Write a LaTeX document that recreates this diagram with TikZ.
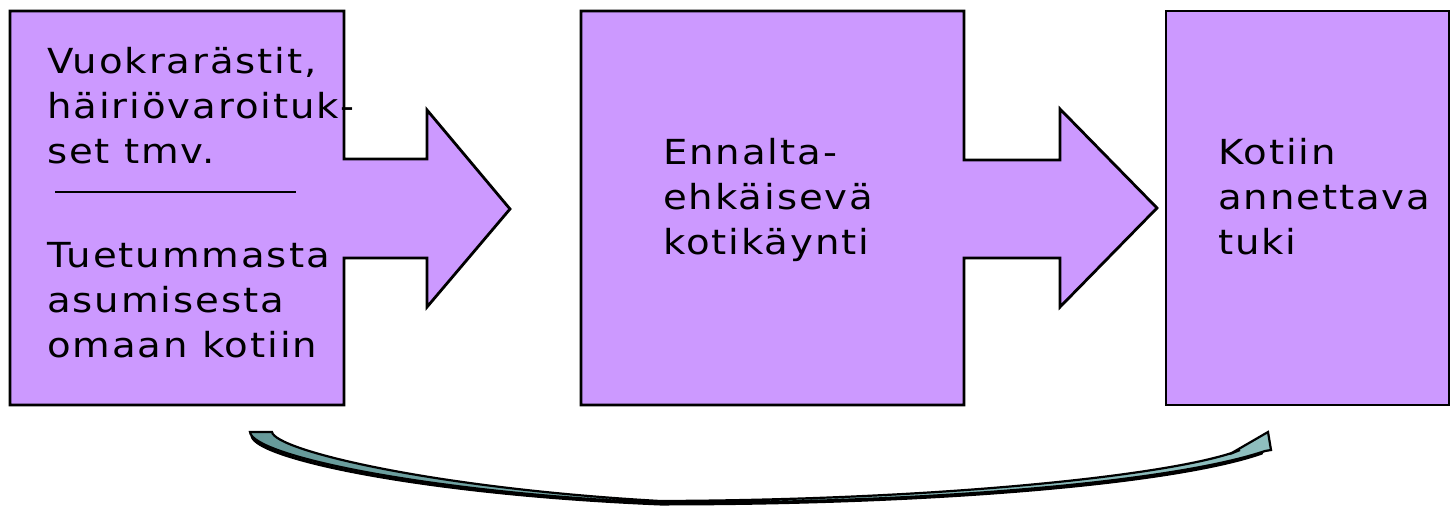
\documentclass[tikz,border=0pt]{standalone}
\usepackage{fontspec}
\newfontfamily\lblfont{DejaVu Sans}[FakeStretch=1.12, LetterSpace=5.5]
\definecolor{boxpurple}{HTML}{CC99FF}
\definecolor{tealL}{HTML}{669999}
\definecolor{tealR}{HTML}{8FBFBF}
\begin{document}
\begin{tikzpicture}[x=1pt,y=-1pt,
  box/.style={fill=boxpurple, draw=black, line width=2.8pt, line join=miter},
  lbl/.style={anchor=base west, inner sep=0pt, font=\lblfont\fontsize{34.5}{40}\selectfont},
  sep/.style={draw=black, line width=2.8pt}]
\useasboundingbox (0,0) rectangle (1450,506);
% callout 1
\path[box] (10,11) -- (344,11) -- (344,159) -- (427,159) -- (427,110) -- (510,209)
  -- (427,307) -- (427,258) -- (344,258) -- (344,405) -- (10,405) -- cycle;
% callout 2
\path[box] (581,11) -- (964,11) -- (964,160) -- (1060,160) -- (1060,109) -- (1157,208)
  -- (1060,307) -- (1060,258) -- (964,258) -- (964,405) -- (581,405) -- cycle;
% box 3
\path[box] (1166,11) rectangle (1449,405);
% separator
\coordinate (sepA) at (55,192);
\coordinate (sepB) at (296,192);
\draw[sep] (sepA) -- (sepB);
% texts box 1
\node[lbl] (a1) at (47,73) {Vuokrarästit,};
\node[lbl] (a2) at (47,118) {häiriövaroituk-};
\node[lbl] (a3) at (47,163) {set tmv.};
\node[lbl] (a4) at (47,267) {Tuetummasta};
\node[lbl] (a5) at (47,312) {asumisesta};
\node[lbl] (a6) at (47,357) {omaan kotiin};
% texts box 2
\node[lbl] (b1) at (663,164) {Ennalta-};
\node[lbl] (b2) at (663,209) {ehkäisevä};
\node[lbl] (b3) at (663,254) {kotikäynti};
% texts box 3
\node[lbl] (c1) at (1218,164) {Kotiin};
\node[lbl] (c2) at (1218,209) {annettava};
\node[lbl] (c3) at (1218,254) {tuki};
% curved arrow shadow
\draw[black, line width=3pt, line cap=round]
  (252,436) .. controls (256,458) and (420,494) .. (660,504)
  .. controls (950,504) and (1180,482) .. (1262,453);
% curved arrow
\path[draw=black, line width=2.2pt, line join=miter, left color=tealL, right color=tealR]
  (250,432) .. controls (252,455) and (420,492) .. (660,503)
  .. controls (950,503) and (1180,480) .. (1265,451)
  -- (1271,450) -- (1268,432) -- (1230,454) -- (1240,450)
  .. controls (1180,474) and (950,500) .. (660,501)
  .. controls (430,488) and (275,450) .. (272,432) -- cycle;
\end{tikzpicture}
\end{document}
